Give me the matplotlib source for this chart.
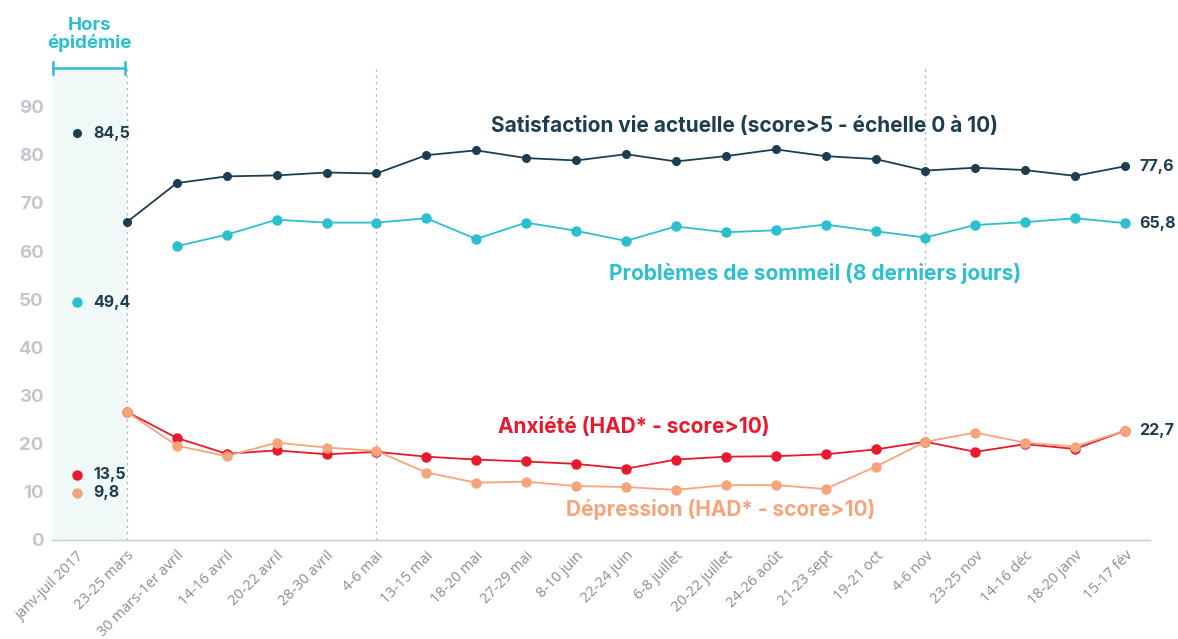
import numpy as np
import matplotlib
matplotlib.use("Agg")
import matplotlib.pyplot as plt

# categories (first one is the pre-epidemic reference)
periods = ["janv-juil 2017", "23-25 mars", "30 mars-1er avril", "14-16 avril", "20-22 avril",
           "28-30 avril", "4-6 mai", "13-15 mai", "18-20 mai", "27-29 mai", "8-10 juin",
           "22-24 juin", "6-8 juillet", "20-22 juillet", "24-26 août", "21-23 sept",
           "19-21 oct", "4-6 nov", "23-25 nov", "14-16 déc", "18-20 janv", "15-17 fév"]

satisfaction = [84.5, 66.0, 74.1, 75.5, 75.7, 76.3, 76.1, 79.9, 80.9, 79.3, 78.8,
                80.1, 78.6, 79.7, 81.1, 79.7, 79.1, 76.7, 77.3, 76.8, 75.6, 77.6]
sommeil = [49.4, None, 61.0, 63.4, 66.5, 65.9, 65.9, 66.8, 62.5, 65.9, 64.2,
           62.1, 65.1, 63.9, 64.3, 65.5, 64.1, 62.8, 65.4, 66.0, 66.8, 65.8]
anxiete = [13.5, 26.6, 21.2, 17.9, 18.6, 17.8, 18.3, 17.3, 16.7, 16.3, 15.8,
           14.8, 16.7, 17.3, 17.4, 17.8, 18.8, 20.4, 18.3, 19.9, 18.9, 22.7]
depression = [9.8, 26.6, 19.6, 17.4, 20.2, 19.2, 18.5, 14.0, 11.9, 12.1, 11.2,
              11.0, 10.4, 11.4, 11.4, 10.6, 15.2, 20.4, 22.3, 20.2, 19.4, 22.7]

y_ticks = [0, 10, 20, 30, 40, 50, 60, 70, 80, 90]
marker_lines = ["23-25 mars", "4-6 mai", "4-6 nov"]

DARK = "#1d3e50"
TEAL = "#2bbfcf"
RED = "#e8192c"
ORANGE = "#f5a57b"
BOLD = ["Inter", "DejaVu Sans"]
TICK = ["Open Sans", "DejaVu Sans"]


def to_arr(vals):
    return np.array([np.nan if v is None else v for v in vals], dtype=float)


def fmt(v):
    return f"{v:.1f}".replace(".", ",")


fig = plt.figure(figsize=(11.78, 6.39), dpi=100)
ax = fig.add_axes([52 / 1178, 99 / 639, 1098 / 1178, 472 / 639])

x = np.arange(len(periods))
ax.set_xlim(-0.5, len(periods) - 0.5)
ax.set_ylim(0, 98)

# pre-epidemic shaded band
ax.axvspan(-0.5, 1, color="#f0f9f8", zorder=0, lw=0)
for p in marker_lines:
    ax.axvline(periods.index(p), color="#b8b8b8", lw=0.9, ls=(0, (2, 3)), zorder=1)

series = [
    (satisfaction, DARK, 5.5),
    (sommeil, TEAL, 6.5),
    (anxiete, RED, 6.5),
    (depression, ORANGE, 6.5),
]
for vals, col, ms in series:
    y = to_arr(vals)
    # reference point (no line)
    ax.plot(x[0], y[0], "o", color=col, ms=ms, zorder=4)
    ax.plot(x[1:], y[1:], "-o", color=col, lw=1.3, ms=ms, zorder=3)

# value labels: reference point and last point
lbl = dict(color=DARK, fontsize=11.5, fontweight="bold", family=BOLD, va="center", ha="left")
for vals in [satisfaction, sommeil, anxiete, depression]:
    ax.text(x[0] + 0.32, vals[0], fmt(vals[0]), **lbl)
for vals in [satisfaction, sommeil, anxiete]:
    ax.text(x[-1] + 0.28, vals[-1], fmt(vals[-1]), **lbl)

# series titles
title = dict(fontsize=15, fontweight="bold", family=BOLD, ha="center", va="center")
ax.text(13.38, 86.0, "Satisfaction vie actuelle (score>5 - échelle 0 à 10)", color=DARK, **title)
ax.text(14.8, 55.3, "Problèmes de sommeil (8 derniers jours)", color=TEAL, **title)
ax.text(11.15, 23.5, "Anxiété (HAD* - score>10)", color=RED, **title)
ax.text(12.9, 6.4, "Dépression (HAD* - score>10)", color=ORANGE, **title)

# "Hors épidémie" bracket
ax.plot([-0.48, 0.97], [98, 98], color=TEAL, lw=1.8, clip_on=False, zorder=5)
for xe in [-0.48, 0.97]:
    ax.plot([xe, xe], [96.8, 99.2], color=TEAL, lw=1.8, clip_on=False, zorder=5)
ax.text(0.25, 105.0, "Hors\népidémie", color=TEAL, fontsize=13.5, fontweight="bold",
        family=BOLD, ha="center", va="center", linespacing=1.0, clip_on=False)

# axes styling
ax.set_yticks(y_ticks)
ax.set_yticklabels([str(t) for t in y_ticks], color="#c5c6cf", fontsize=13.5,
                   fontweight="bold", family=BOLD)
ax.set_xticks(x)
ax.set_xticklabels(periods, rotation=45, ha="right", rotation_mode="anchor",
                   color="#8c8c8c", fontsize=10.5, family=TICK)
ax.tick_params(axis="both", length=0)
ax.tick_params(axis="y", pad=6)
ax.tick_params(axis="x", pad=6)
for s in ["top", "right", "left"]:
    ax.spines[s].set_visible(False)
ax.spines["bottom"].set_color("#c8c8c8")
ax.spines["bottom"].set_linewidth(1.0)

fig.savefig("out.png", dpi=100)
